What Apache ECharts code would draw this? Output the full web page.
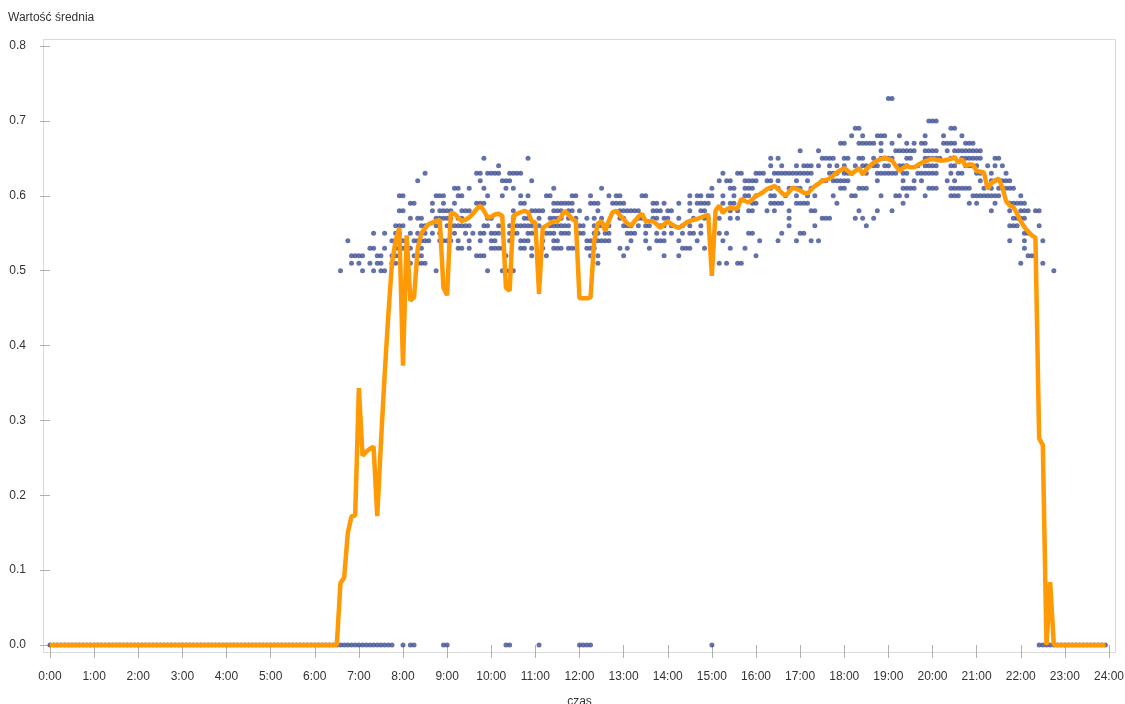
<!DOCTYPE html>
<html><head><meta charset="utf-8">
<script src="https://cdn.jsdelivr.net/npm/echarts@6/dist/echarts.min.js"></script>
<style>html,body{margin:0;padding:0;background:#fff}#c{width:1125px;height:704px}</style>
</head><body><div id="c"></div>
<script>
// x axis: hours of the day (5-minute slots, slot index / 12 = hour)
const hourTicks = ['0:00','1:00','2:00','3:00','4:00','5:00','6:00','7:00','8:00','9:00','10:00','11:00','12:00','13:00','14:00','15:00','16:00','17:00','18:00','19:00','20:00','21:00','22:00','23:00','24:00'];
const yTicks = ['0.0','0.1','0.2','0.3','0.4','0.5','0.6','0.7','0.8'];

// orange line: average value for each 5-minute slot (0:00 ... 23:55)
const avgLine = [
0,0,0,0,0,0,0,0,0,0,0,0,0,0,0,0,0,0,0,0,0,0,0,0,0,0,0,0,0,0,0,0,0,0,0,0,0,0,0,0,
0,0,0,0,0,0,0,0,0,0,0,0,0,0,0,0,0,0,0,0,0,0,0,0,0,0,0,0,0,0,0,0,0,0,0,0,0,0,0,
0.083,0.09,0.15,0.172,0.173,0.343,0.253,0.258,0.262,0.265,0.172,0.27,0.36,0.44,0.51,0.54,0.557,0.373,0.547,0.46,
0.464,0.53,0.55,0.557,0.562,0.564,0.566,0.568,0.477,0.467,0.577,0.576,0.571,0.566,0.568,0.571,0.576,0.582,0.587,0.58,
0.571,0.572,0.575,0.576,0.573,0.477,0.473,0.573,0.576,0.578,0.58,0.578,0.566,0.564,0.469,0.557,0.56,0.563,0.566,0.566,
0.572,0.58,0.575,0.569,0.566,0.463,0.463,0.463,0.464,0.54,0.563,0.566,0.553,0.567,0.578,0.58,0.574,0.569,0.563,0.56,
0.566,0.572,0.576,0.566,0.566,0.566,0.562,0.557,0.562,0.566,0.562,0.559,0.557,0.56,0.564,0.566,0.568,0.569,0.571,0.573,
0.575,0.493,0.58,0.587,0.577,0.582,0.584,0.583,0.583,0.596,0.593,0.591,0.595,0.6,0.602,0.605,0.609,0.611,0.613,0.609,
0.604,0.6,0.605,0.611,0.609,0.607,0.604,0.603,0.608,0.613,0.616,0.62,0.621,0.623,0.627,0.631,0.634,0.637,0.633,0.629,
0.633,0.637,0.629,0.635,0.64,0.644,0.647,0.649,0.651,0.649,0.647,0.64,0.633,0.637,0.64,0.638,0.638,0.641,0.644,0.646,
0.648,0.649,0.648,0.647,0.647,0.648,0.649,0.652,0.644,0.649,0.64,0.642,0.641,0.633,0.632,0.631,0.609,0.617,0.62,0.623,
0.611,0.593,0.587,0.585,0.576,0.566,0.558,0.552,0.547,0.544,0.276,0.267,0,0.084,0,
0,0,0,0,0,0,0,0,0,0,0,0,0,0
];

// blue dots: individual readings, grouped by value row; each row lists the 5-minute slots holding a dot
const dotRowValues = [0.73,0.70,0.69,0.68,0.67,0.66,0.65,0.64,0.63,0.62,0.61,0.60,0.59,0.58,0.57,0.56,0.55,0.54,0.53,0.52,0.51,0.50,0.00];
const dotRowSlots = [
[228,229],
[239,240,241],
[219,220,245,246],
[218,221,225,226,227,231,238,243,248],
[215,216,220,221,222,223,224,226,229,233,235,237,238,243,244,245,246,249,250,251],
[204,209,226,230,231,232,233,234,235,238,239,240,241,244,246,247,248,249,250,251,252,253],
[118,130,196,198,210,211,212,213,216,217,220,221,224,226,227,228,229,233,234,238,239,240,241,242,245,248,249,250,251,252,253,257,258],
[122,196,199,203,205,206,207,209,212,214,216,219,221,222,224,225,227,228,231,232,233,236,238,239,240,241,245,246,249,250,251,252,255,257,259],
[102,116,117,119,120,121,122,125,126,127,128,183,187,188,192,193,194,197,198,199,200,201,202,203,204,205,206,207,212,213,214,216,217,218,221,222,225,226,227,228,229,230,232,233,236,237,238,239,240,241,245,247,248,252,253,256,260],
[100,117,123,124,125,131,182,184,185,189,190,191,192,195,196,198,203,206,210,211,213,214,215,216,217,225,232,235,237,244,246,253,256,257,259,260,261],
[110,111,114,118,124,126,137,150,180,185,186,189,190,191,196,198,201,203,204,207,215,216,220,221,222,232,233,234,235,239,240,241,245,246,247,248,249,250,254,256,258,260,261,262],
[95,96,105,106,107,111,112,119,123,128,130,135,136,142,143,147,152,154,155,161,162,174,176,177,179,180,183,186,189,190,192,196,197,200,203,206,208,213,218,219,226,230,231,233,238,245,246,247,251,252,253,254,255,256,257,258,264],
[98,99,104,107,110,116,117,118,128,129,137,138,139,140,141,142,147,148,149,153,154,155,156,164,165,167,171,174,176,177,178,179,183,185,186,191,192,196,197,198,199,203,204,205,206,214,232,250,252,257,261,262,263,264,265],
[95,96,104,106,107,108,109,112,113,114,126,131,132,133,134,137,138,139,141,142,144,149,155,156,157,158,159,160,164,165,166,168,169,174,177,178,183,185,187,190,191,195,197,201,207,208,220,225,229,256,261,264,265,266,268,269],
[98,100,101,105,106,107,108,109,111,112,119,120,126,129,130,133,136,137,138,139,141,143,146,148,150,155,156,160,161,164,165,167,168,171,175,178,179,182,185,187,201,210,211,212,219,221,224,262,263,264,265],
[94,95,96,101,102,105,108,109,110,111,112,113,114,118,119,122,123,125,126,127,128,129,130,131,133,136,137,138,139,140,141,144,145,148,149,150,151,152,156,157,158,160,162,163,166,167,169,172,174,177,201,208,222,261,262,263,269],
[88,91,94,95,98,100,102,104,106,110,113,115,117,118,120,121,122,125,126,127,130,131,132,135,136,137,139,140,141,144,145,148,149,151,152,157,158,159,162,165,167,169,172,174,175,177,182,184,190,191,199,204,205,265,266],
[81,93,94,96,99,100,101,102,103,106,107,108,109,111,114,117,120,121,125,128,129,130,134,137,138,146,147,149,150,151,152,158,162,165,166,167,171,176,183,193,198,203,207,209,261,265,270],
[87,88,91,94,95,96,97,98,101,111,112,114,120,121,122,123,128,129,131,134,137,138,139,141,142,143,146,147,148,155,157,163,172,173,174,178,185,189,265],
[82,83,84,85,89,90,93,94,95,99,100,101,116,117,118,124,131,135,147,149,156,167,171,192,266,267,268],
[82,84,87,89,90,93,94,98,100,101,102,149,182,184,187,188,264,270],
[79,85,88,90,91,105,119,123,124,125,126,273],
[0,1,2,3,4,5,6,7,8,9,10,11,12,13,14,15,16,17,18,19,20,21,22,23,24,25,26,27,28,29,30,31,32,33,34,35,36,37,38,39,
 40,41,42,43,44,45,46,47,48,49,50,51,52,53,54,55,56,57,58,59,60,61,62,63,64,65,66,67,68,69,70,71,72,73,74,75,76,77,78,
 79,80,81,82,83,84,85,86,87,88,89,90,91,92,93,96,98,99,107,108,124,125,133,144,145,146,147,180,
 269,270,271,272,273,274,275,276,277,278,279,280,281,282,283,284,285,286,287]
];

const slotsPerHour = 12;
const lineData = avgLine.map((v, i) => [i / slotsPerHour, v]);
const dotData = [];
dotRowSlots.forEach((slots, r) => slots.forEach(s => dotData.push([s / slotsPerHour, dotRowValues[r]])));

const FONT = '"Liberation Sans", Arial, sans-serif';
const chart = echarts.init(document.getElementById('c'), null, {renderer: 'canvas'});
chart.setOption({
  animation: false,
  backgroundColor: '#fff',
  title: {text: 'Wartość średnia', left: 8, top: 12, padding: 0, textStyle: {fontSize: 12, fontWeight: 'normal', color: '#333', fontFamily: FONT}},
  grid: {left: 50, right: 16, top: 46, bottom: 59, containLabel: false, outerBoundsMode: 'none'},
  graphic: [{type: 'rect', z: -1, silent: true, shape: {x: 43.5, y: 39.5, width: 1072, height: 613}, style: {fill: 'none', stroke: '#d9d9d9', lineWidth: 1}}],
  xAxis: {
    type: 'value', min: 0, max: 24, interval: 1, offset: 7,
    name: 'czas', nameLocation: 'middle', nameGap: 44,
    nameTextStyle: {fontSize: 12, color: '#333', fontFamily: FONT},
    axisLine: {show: false},
    axisTick: {show: true, length: 13, lineStyle: {color: '#b0b0b0'}},
    axisLabel: {margin: 19, fontSize: 12, color: '#333', fontFamily: FONT, formatter: v => hourTicks[Math.round(v)]},
    splitLine: {show: false}
  },
  yAxis: {
    type: 'value', min: 0, max: 0.8, interval: 0.1, offset: 8,
    axisLine: {show: false},
    axisTick: {show: true, length: 10, lineStyle: {color: '#b0b0b0'}},
    axisLabel: {margin: 16, fontSize: 12, color: '#333', fontFamily: FONT, formatter: v => yTicks[Math.round(v * 10)]},
    splitLine: {show: false}
  },
  series: [
    {type: 'scatter', data: dotData, symbolSize: 5, itemStyle: {color: '#3f4f94'}, z: 2, clip: false},
    {type: 'line', data: lineData, showSymbol: false, symbol: 'none', lineStyle: {color: '#ff9a05', width: 4.5}, itemStyle: {color: '#ff9a05'}, z: 3, clip: false}
  ]
});
</script>
</body></html>
